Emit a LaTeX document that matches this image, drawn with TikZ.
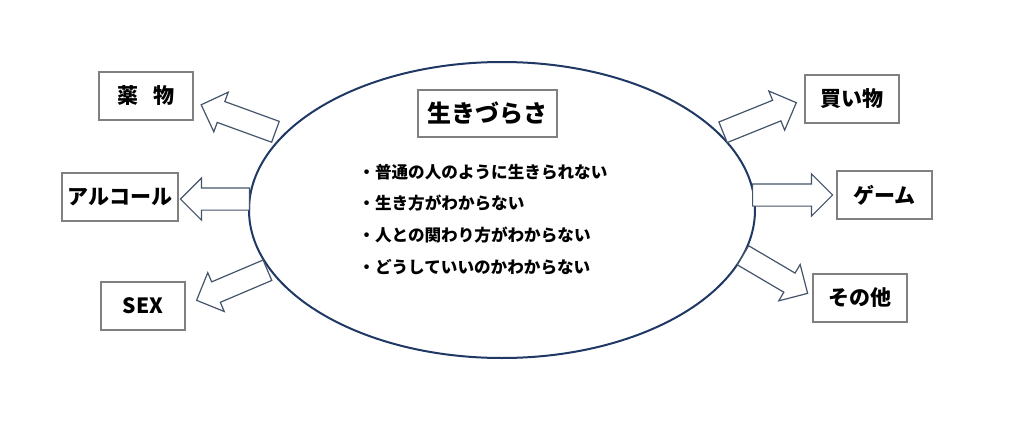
\documentclass[tikz,border=0pt]{standalone}
\usepackage{fontspec}
\setmainfont{Noto Sans CJK JP}
\usetikzlibrary{shapes.arrows,shapes.geometric,positioning}
\definecolor{rimnavy}{HTML}{1F3864}
\definecolor{boxgray}{HTML}{808080}
\definecolor{arrowgray}{HTML}{44546A}

\begin{document}
\begin{tikzpicture}[x=0.5pt,y=-0.5pt,
	habit/.style={draw=boxgray, line width=0.6pt, fill=white, inner sep=0pt, minimum height=24pt, font=\fontsize{10.5pt}{12pt}\selectfont\bfseries},
	pusharrow/.style={single arrow, draw=arrowgray, line width=0.6pt, fill=white, inner xsep=0pt, inner ysep=5.25pt, minimum width=0pt, single arrow head extend=5pt, anchor=tail},
	reason/.style={anchor=west, inner sep=0pt, font=\fontsize{8.3pt}{10pt}\selectfont\bfseries}]
			\useasboundingbox (0,0) rectangle (1024,428);
			
			\node[draw=rimnavy, line width=1pt, ellipse, fill=white, minimum width=253pt, minimum height=148pt] (core) at (502,210) {};
			\node[draw=boxgray, line width=0.6pt, fill=white, minimum width=69.5pt, minimum height=23.5pt, inner sep=0pt, font=\fontsize{12pt}{14pt}\selectfont\bfseries] (title) at (487.5,113.5) {生きづらさ};
			
			\node[reason] (r1) at (358,172) {・普通の人のように生きられない};
			\node[reason] (r2) at (358,203.5) {・生き方がわからない};
			\node[reason] (r3) at (358,235) {・人との関わり方がわからない};
			\node[reason] (r4) at (358,267) {・どうしていいのかわからない};
			
			\node[habit, minimum width=47pt] (drug) at (146,96) {薬\hspace{0.7em}物};
			\node[habit, minimum width=58pt] (alcohol) at (120,197) {アルコール};
			\node[habit, minimum width=42pt] (sex) at (143,306) {SEX};
			\node[habit, minimum width=47pt] (shop) at (852,99) {買い物};
			\node[habit, minimum width=47.5pt] (game) at (884.5,195) {ゲーム};
			\node[habit, minimum width=47pt] (other) at (860,298) {その他};
			
			\node[pusharrow, rotate=160, minimum height=39.5pt] (todrug) at (276,132) {};
			\node[pusharrow, rotate=180, minimum height=34.5pt] (toalcohol) at (250,199) {};
			\node[pusharrow, rotate=203, minimum height=38.5pt] (tosex) at (268,270) {};
			\node[pusharrow, rotate=22, minimum height=39.5pt] (toshop) at (722.5,132.5) {};
			\node[pusharrow, rotate=0, minimum height=40pt] (togame) at (752,195) {};
			\node[pusharrow, rotate=-30.5, minimum height=37.5pt] (toother) at (742.5,255) {};
\end{tikzpicture}
\end{document}
